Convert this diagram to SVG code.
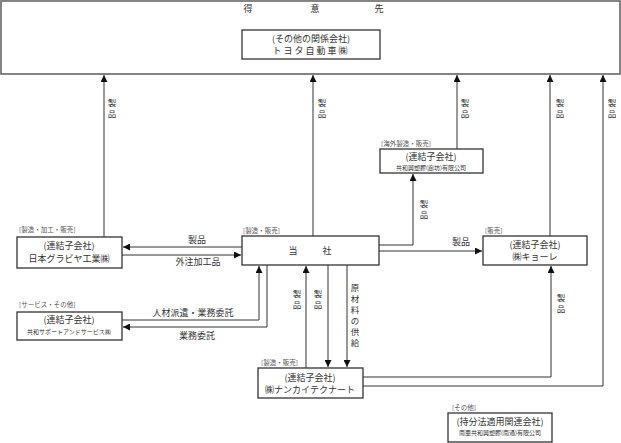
<svg xmlns="http://www.w3.org/2000/svg" width="621" height="443" viewBox="0 0 621 443">
<style>
text{font-family:"Noto Sans CJK JP","Noto Sans",sans-serif;fill:#333;}
.t{font-size:9px;text-anchor:middle;}
.v{font-size:8.5px;text-anchor:middle;}
.tag{font-size:6.5px;fill:#555;}
.sm{font-size:6px;text-anchor:middle;}
.box{fill:#fff;stroke:#333;stroke-width:1.3;}
.c{fill:none;stroke:#333;stroke-width:1;}
</style>
<defs>
<marker id="a" markerWidth="7" markerHeight="7" refX="7" refY="3.5" orient="auto" markerUnits="userSpaceOnUse">
<path d="M0,0 L7,3.5 L0,7 z" fill="#111"/>
</marker>
</defs>
<g id="customers">
<rect x="1" y="1" width="619" height="73" fill="#fff" stroke="#666" stroke-width="1.6"/>
<text class="t" x="248" y="12">得</text>
<text class="t" x="315" y="12">意</text>
<text class="t" x="379" y="12">先</text>
</g>
<g id="toyota">
<rect class="box" x="242" y="30" width="138" height="29"/>
<text class="t" x="311" y="42">(その他の関係会社)</text>
<text class="t" x="311" y="54" letter-spacing="2">トヨタ自動車㈱</text>
</g>
<g id="kyowako">
<text class="tag" x="381" y="146">[海外製造・販売]</text>
<rect class="box" x="380" y="149" width="103" height="24"/>
<text class="t" x="431" y="160">(連結子会社)</text>
<text class="sm" x="431" y="170">共和興塑膠(廊坊)有限公司</text>
</g>
<g id="nihongravure">
<text class="tag" x="19" y="232">[製造・加工・販売]</text>
<rect class="box" x="17" y="237" width="105" height="31"/>
<text class="t" x="69" y="249">(連結子会社)</text>
<text class="t" x="69" y="262">日本グラビヤ工業㈱</text>
</g>
<g id="tosha">
<text class="tag" x="243" y="233">[製造・販売]</text>
<rect class="box" x="242" y="236" width="137" height="29"/>
<text class="t" x="293" y="254">当</text>
<text class="t" x="327" y="254">社</text>
</g>
<g id="kyore">
<text class="tag" x="485" y="233">[販売]</text>
<rect class="box" x="483" y="236" width="104" height="29"/>
<text class="t" x="535" y="248">(連結子会社)</text>
<text class="t" x="535" y="260">㈱キョーレ</text>
</g>
<g id="support">
<text class="tag" x="19" y="307">[サービス・その他]</text>
<rect class="box" x="17" y="312" width="105" height="28"/>
<text class="t" x="69" y="323">(連結子会社)</text>
<text class="sm" x="69" y="334">共和サポートアンドサービス㈱</text>
</g>
<g id="nankai">
<text class="tag" x="261" y="365">[製造・販売]</text>
<rect class="box" x="258" y="368" width="105" height="30"/>
<text class="t" x="310" y="381">(連結子会社)</text>
<text class="t" x="310" y="393">㈱ナンカイテクナート</text>
</g>
<g id="nanya">
<text class="tag" x="452" y="410">[その他]</text>
<rect class="box" x="448" y="413" width="104" height="29"/>
<text class="t" x="500" y="425">(持分法適用関連会社)</text>
<text class="sm" x="500" y="435">南亜共和興塑膠(南通)有限公司</text>
</g>
<g id="connectors">
<path class="c" d="M104,237 V75" marker-end="url(#a)"/>
<path class="c" d="M313,236 V75" marker-end="url(#a)"/>
<path class="c" d="M457,149 V75" marker-end="url(#a)"/>
<path class="c" d="M550,236 V75" marker-end="url(#a)"/>
<path class="c" d="M379,245 H413 V174" marker-end="url(#a)"/>
<path class="c" d="M379,251 H482" marker-end="url(#a)"/>
<path class="c" d="M242,247 H123" marker-end="url(#a)"/>
<path class="c" d="M122,255 H241" marker-end="url(#a)"/>
<path class="c" d="M122,320 H259 V266" marker-end="url(#a)"/>
<path class="c" d="M267,265 V327 H123" marker-end="url(#a)"/>
<path class="c" d="M306,368 V266" marker-end="url(#a)"/>
<path class="c" d="M328,265 V367" marker-end="url(#a)"/>
<path class="c" d="M347,265 V367" marker-end="url(#a)"/>
<path class="c" d="M363,377 H551 V266" marker-end="url(#a)"/>
<path class="c" d="M363,386 H603 V75" marker-end="url(#a)"/>
</g>
<g id="labels">
<text class="v" x="112" y="106">製</text><text class="v" x="112" y="117">品</text>
<text class="v" x="322" y="106">製</text><text class="v" x="322" y="117">品</text>
<text class="v" x="465" y="106">製</text><text class="v" x="465" y="117">品</text>
<text class="v" x="560" y="106">製</text><text class="v" x="560" y="117">品</text>
<text class="v" x="612" y="106">製</text><text class="v" x="612" y="117">品</text>
<text class="v" x="424" y="207">製</text><text class="v" x="424" y="218">品</text>
<text class="t" x="461" y="245">製品</text>
<text class="t" x="197" y="243">製品</text>
<text class="t" x="198" y="265">外注加工品</text>
<text class="t" x="193" y="316">人材派遣・業務委託</text>
<text class="t" x="197" y="339">業務委託</text>
<text class="v" x="297" y="297">製</text><text class="v" x="297" y="308">品</text>
<text class="v" x="318" y="297">製</text><text class="v" x="318" y="308">品</text>
<text class="v" x="355" y="291">原</text>
<text class="v" x="355" y="302">材</text>
<text class="v" x="355" y="313">料</text>
<text class="v" x="355" y="324">の</text>
<text class="v" x="355" y="335">供</text>
<text class="v" x="355" y="346">給</text>
<text class="v" x="561" y="301">製</text><text class="v" x="561" y="312">品</text>
</g>
</svg>
